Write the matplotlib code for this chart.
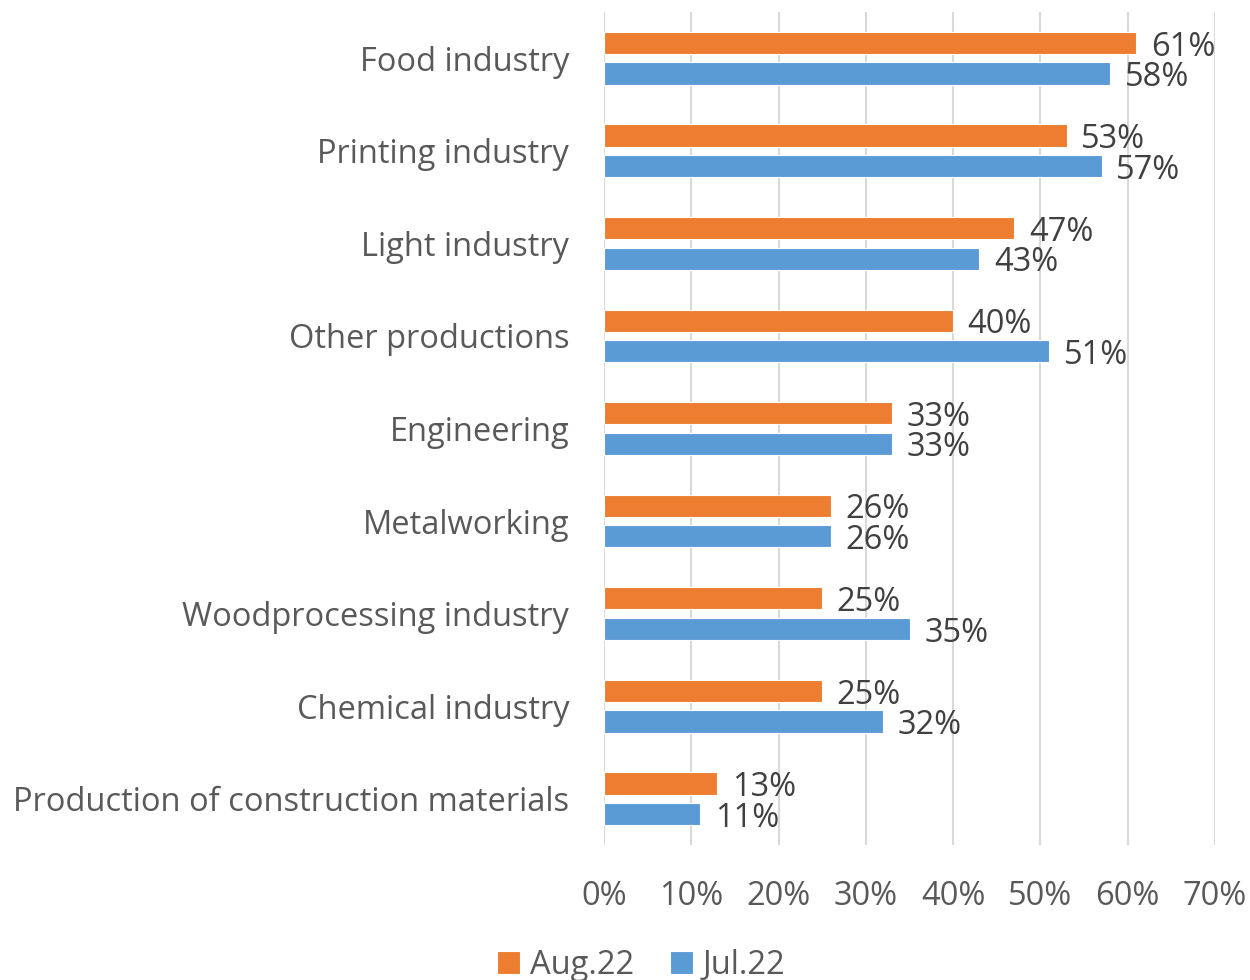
import matplotlib
matplotlib.use("Agg")
import matplotlib.pyplot as plt
import numpy as np

categories = ["Food industry", "Printing industry", "Light industry", "Other productions",
              "Engineering", "Metalworking", "Woodprocessing industry", "Chemical industry",
              "Production of construction materials"]
aug22 = [61, 53, 47, 40, 33, 26, 25, 25, 13]
jul22 = [58, 57, 43, 51, 33, 26, 35, 32, 11]
xticks = [0, 10, 20, 30, 40, 50, 60, 70]
series_names = ["Aug.22", "Jul.22"]

plt.rcParams['font.family'] = ['Open Sans', 'DejaVu Sans']

ORANGE = "#ED7D31"
BLUE = "#5B9BD5"
GRID = "#D9D9D9"
TXT = "#595959"
LBL = "#404040"
FS = 23.5

fig = plt.figure(figsize=(12.5, 9.8), dpi=100)
ax = fig.add_axes([0.4832, 0.1378, 0.4888, 0.85])

y = np.arange(len(categories))
h = 0.24
off = 0.165
b1 = ax.barh(y - off, aug22, height=h, color=ORANGE, edgecolor="white", linewidth=0.8,
             label=series_names[0], zorder=3)
b2 = ax.barh(y + off, jul22, height=h, color=BLUE, edgecolor="white", linewidth=0.8,
             label=series_names[1], zorder=3)

for bars, vals in ((b1, aug22), (b2, jul22)):
    for rect, v in zip(bars, vals):
        ax.annotate(f"{v}%", xy=(rect.get_width(), rect.get_y() + rect.get_height() / 2),
                    xytext=(10.5, -3), textcoords="offset points", va="center", ha="left",
                    fontsize=FS, color=LBL)

ax.set_xlim(0, 70)
ax.set_ylim(len(categories) - 0.5, -0.5)
ax.set_xticks(xticks)
ax.set_xticklabels([f"{t}%" for t in xticks])
ax.set_yticks(y)
ax.set_yticklabels(categories)
ax.tick_params(axis="x", length=0, pad=25, labelsize=FS, labelcolor=TXT)
ax.tick_params(axis="y", length=0, pad=25, labelsize=FS, labelcolor=TXT)
for s in ax.spines.values():
    s.set_visible(False)
ax.grid(axis="x", color=GRID, linewidth=1.5, zorder=0)
ax.set_axisbelow(True)

leg = fig.legend(handles=[b1, b2], labels=series_names, loc="center", bbox_to_anchor=(0.513, 0.015),
                 ncol=2, frameon=False, fontsize=FS, handlelength=0.7, handleheight=0.7,
                 handletextpad=0.3, columnspacing=1.1, labelcolor=TXT)

fig.savefig("out.png", dpi=100)
